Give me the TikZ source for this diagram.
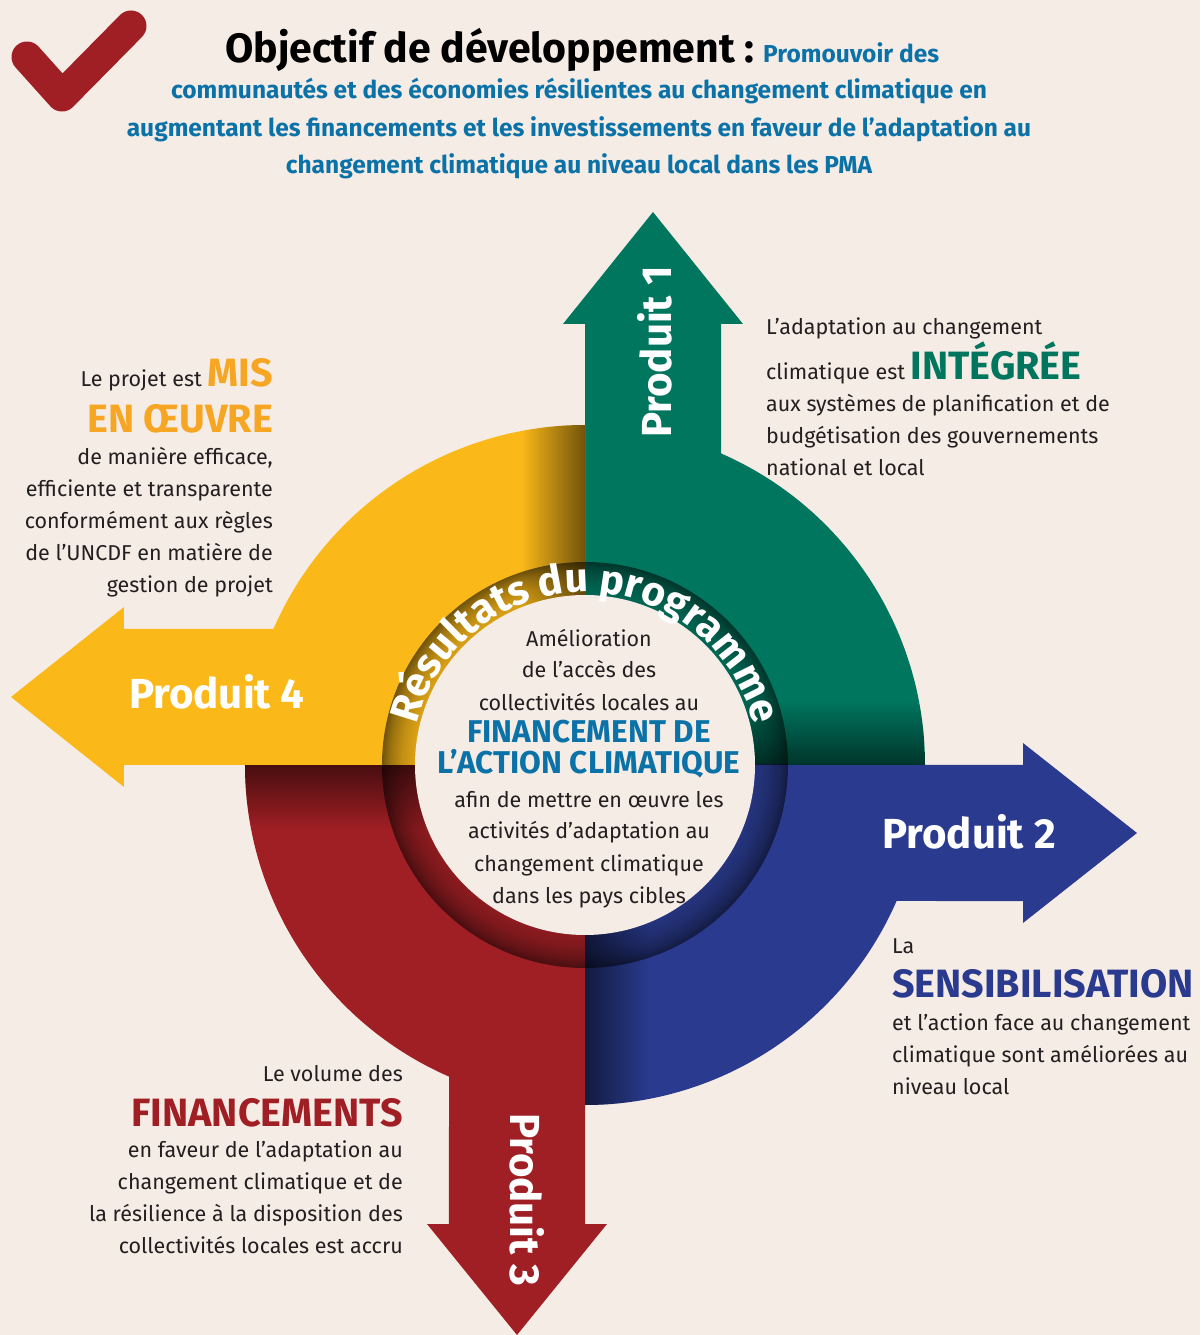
\documentclass[tikz,border=0pt]{standalone}
\usepackage{fontspec}
\setmainfont{Fira Sans}
\usetikzlibrary{decorations.text,fadings}

\definecolor{bg}{HTML}{F6ECE6}
\definecolor{ink}{HTML}{231F20}
\definecolor{qgreen}{HTML}{00765F}
\definecolor{qyellow}{HTML}{FBB919}
\definecolor{qblue}{HTML}{2A3B8F}
\definecolor{qred}{HTML}{A01F24}
\definecolor{tblue}{HTML}{0B72A8}
\definecolor{torange}{HTML}{F6A623}

\newcommand\fsz[1]{\fontsize{#1}{#1}\selectfont}

% bevelled ring shading in a given colour (25bp = outer radius 203)
\newcommand\ringshading[2]{%
  \pgfdeclareradialshading{#1}{\pgfpointorigin}{%
    color(0bp)=(#2!88!black); color(20.9bp)=(#2!88!black);
    color(22.5bp)=(#2!78!black); color(24bp)=(#2!62!black);
    color(25bp)=(#2!45!black); color(50bp)=(#2!45!black)}}
\ringshading{ringG}{qgreen}
\ringshading{ringB}{qblue}
\ringshading{ringR}{qred}
\ringshading{ringY}{qyellow}

% one quadrant of the wheel with its outgoing arrow; #2 rotation,
% #3 distance of the arrow head base, #4 distance of the tip
\newcommand\quadarrow[4]{%
  \fill[#1, rotate=#2] (0,0) -- (340,0)
    arc[start angle=0, end angle=66.42, radius=340]
    -- (136,#3) -- (158,#3) -- (68,#4) -- (-22,#3) -- (0,#3) -- cycle;}

% one quarter of the ring; #2 and #3 give the signs of the quarter
\newcommand\ringquarter[3]{%
  \begin{scope}
    \clip (0,0) rectangle (#2*210,#3*210);
    \shade[shading=#1] (0,0) circle (203);
  \end{scope}}

\begin{document}
\begin{tikzpicture}[x=1pt, y=1pt,
  body/.style={inner sep=0pt, text=ink, font=\fsz{21.5}},
  bigword/.style={inner sep=0pt, font=\fsz{39.5}\bfseries},
  bluehead/.style={inner sep=0pt, text=tblue, font=\fsz{24.5}\bfseries},
  prod/.style={inner sep=0pt, text=white, font=\fsz{42}\bfseries},
  center/.style={inner sep=0pt, text=ink, font=\fsz{21.5}},
  centerbig/.style={inner sep=0pt, text=tblue, font=\fsz{31.5}\bfseries},
  shadow/.style={black, opacity=0.55}]

\fill[bg] (-585,-570) rectangle (615,765);
\useasboundingbox (-585,-570) rectangle (615,765);

% check mark
\draw[qred, line width=31, line cap=round, line join=round]
  (-558,708) -- (-523,669) -- (-454,739);

% title
\node[inner sep=0pt, anchor=base west, text=black, font=\fsz{41}\bfseries]
  (title) at (-360,702) {Objectif de développement :};
\node[bluehead, anchor=base west] (goal1) at (178,702) {Promouvoir des};
\node[bluehead, anchor=base] (goal2) at (-6,666)
  {communautés et des économies résilientes au changement climatique en};
\node[bluehead, anchor=base] (goal3) at (-6,628)
  {augmentant les financements et les investissements en faveur de l’adaptation au};
\node[bluehead, anchor=base] (goal4) at (-6,591)
  {changement climatique au niveau local dans les PMA};

% the four quadrants with their arrows
\quadarrow{qgreen}{0}{441}{553}
\quadarrow{qblue}{-90}{438}{552}
\quadarrow{qred}{180}{459}{570}
\quadarrow{qyellow}{90}{461}{574}

% bevelled ring around the centre
\ringquarter{ringG}{1}{1}
\ringquarter{ringB}{1}{-1}
\ringquarter{ringR}{-1}{-1}
\ringquarter{ringY}{-1}{1}

% shadows where each quadrant slides under the next one
\begin{scope}
  \clip (0,0) circle (340);
  \fill[shadow, path fading=north] (0,0) rectangle (340,64);
  \fill[shadow, path fading=east] (0,-340) rectangle (64,0);
  \fill[shadow, path fading=south] (-340,-64) rectangle (0,0);
  \fill[shadow, path fading=west] (-64,0) rectangle (0,340);
\end{scope}

\fill[bg] (0,0) circle (170);

% ring caption
\path[decorate, decoration={text along path, text align=center,
    text color=white, text={|\fsz{41}\bfseries|Résultats du programme}}]
  (172:173) arc[start angle=172, end angle=8, radius=173];

% centre text
\node[center, anchor=base] (c1) at (4,118) {Amélioration};
\node[center, anchor=base] (c2) at (4,87) {de l’accès des};
\node[center, anchor=base] (c3) at (4,54) {collectivités locales au};
\node[centerbig, anchor=base] (c4) at (4,22) {FINANCEMENT DE};
\node[centerbig, anchor=base] (c5) at (4,-9) {L’ACTION CLIMATIQUE};
\node[center, anchor=base] (c6) at (4,-42) {afin de mettre en œuvre les};
\node[center, anchor=base] (c7) at (4,-73) {activités d’adaptation au};
\node[center, anchor=base] (c8) at (4,-106) {changement climatique};
\node[center, anchor=base] (c9) at (4,-138) {dans les pays cibles};

% arrow labels
\node[prod, rotate=90] (p1) at (70,413) {Produit 1};
\node[prod] (p2) at (384,-67) {Produit 2};
\node[prod, rotate=-90] (p3) at (-58,-435) {Produit 3};
\node[prod] (p4) at (-368,73) {Produit 4};

% output 4 description
\node[body, anchor=base east] (d4a) at (-312,378)
  {Le projet est {\fsz{39.5}\bfseries\color{torange}MIS}};
\node[bigword, anchor=base east, text=torange] (d4b) at (-312,332) {EN ŒUVRE};
\node[body, anchor=base east] (d4c) at (-312,300) {de manière efficace,};
\node[body, anchor=base east] (d4d) at (-312,268) {efficiente et transparente};
\node[body, anchor=base east] (d4e) at (-312,236) {conformément aux règles};
\node[body, anchor=base east] (d4f) at (-312,204) {de l’UNCDF en matière de};
\node[body, anchor=base east] (d4g) at (-312,172) {gestion de projet};

% output 1 description
\node[body, anchor=base west] (d1a) at (181,430) {L’adaptation au changement};
\node[body, anchor=base west] (d1b) at (181,385)
  {climatique est {\fsz{39.5}\bfseries\color{qgreen}INTÉGRÉE}};
\node[body, anchor=base west] (d1c) at (181,353) {aux systèmes de planification et de};
\node[body, anchor=base west] (d1d) at (181,321) {budgétisation des gouvernements};
\node[body, anchor=base west] (d1e) at (181,289) {national et local};

% output 2 description
\node[body, anchor=base west] (d2a) at (307,-188) {La};
\node[bigword, anchor=base west, text=qblue] (d2b) at (307,-232) {SENSIBILISATION};
\node[body, anchor=base west] (d2c) at (307,-265) {et l’action face au changement};
\node[body, anchor=base west] (d2d) at (307,-297) {climatique sont améliorées au};
\node[body, anchor=base west] (d2e) at (307,-329) {niveau local};

% output 3 description
\node[body, anchor=base east] (d3a) at (-182,-316) {Le volume des};
\node[bigword, anchor=base east, text=qred] (d3b) at (-182,-361) {FINANCEMENTS};
\node[body, anchor=base east] (d3c) at (-182,-392) {en faveur de l’adaptation au};
\node[body, anchor=base east] (d3d) at (-182,-424) {changement climatique et de};
\node[body, anchor=base east] (d3e) at (-182,-456) {la résilience à la disposition des};
\node[body, anchor=base east] (d3f) at (-182,-488) {collectivités locales est accru};

\end{tikzpicture}
\end{document}
